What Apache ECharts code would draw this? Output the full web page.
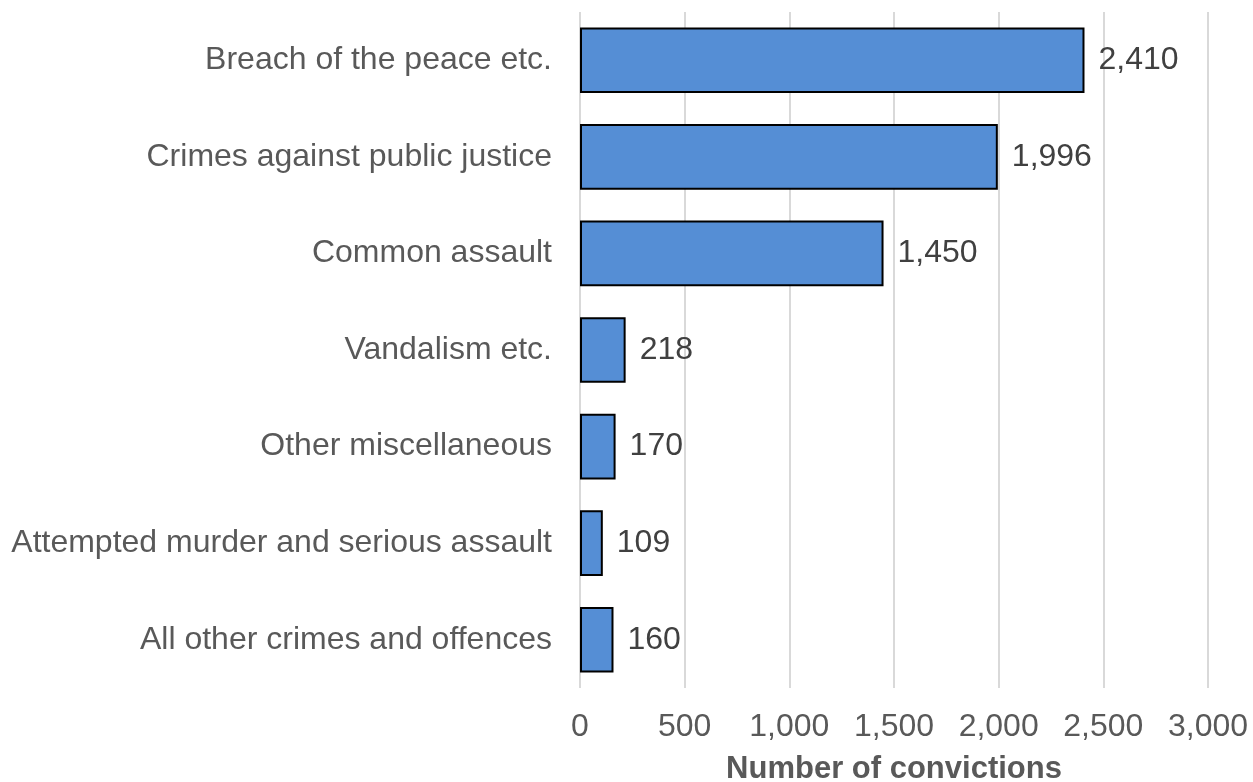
<!DOCTYPE html>
<html>
<head>
<meta charset="utf-8">
<script src="https://cdn.jsdelivr.net/npm/echarts@6/dist/echarts.min.js"></script>
<style>
  html, body { margin: 0; padding: 0; background: #ffffff; }
  #chart { width: 1253px; height: 782px; }
</style>
</head>
<body>
<div id="chart"></div>
<script>
// Convictions by crime type (top to bottom)
const categories = [
  'Breach of the peace etc.',
  'Crimes against public justice',
  'Common assault',
  'Vandalism etc.',
  'Other miscellaneous',
  'Attempted murder and serious assault',
  'All other crimes and offences'
];
const convictions = [2410, 1996, 1450, 218, 170, 109, 160];
const axisTitle = 'Number of convictions';

const chart = echarts.init(document.getElementById('chart'), null, { renderer: 'canvas' });
const fmt = v => v.toLocaleString('en-GB');

chart.setOption({
  animation: false,
  grid: {
    left: 580, right: 45, top: 12, bottom: 94,
    containLabel: false,
    outerBoundsMode: 'none'
  },
  xAxis: {
    type: 'value',
    min: 0,
    max: 3000,
    interval: 500,
    name: axisTitle,
    nameLocation: 'middle',
    nameGap: 66,
    nameTextStyle: { fontFamily: 'Liberation Sans', fontSize: 31, fontWeight: 'bold', color: '#595959' },
    axisLine: { show: false },
    axisTick: { show: false },
    axisLabel: {
      margin: 23,
      fontFamily: 'Liberation Sans',
      fontSize: 32,
      color: '#595959',
      formatter: v => fmt(v)
    },
    splitLine: { show: true, lineStyle: { color: '#d9d9d9', width: 2 } }
  },
  yAxis: {
    type: 'category',
    data: categories,
    inverse: true,
    axisLine: { show: false },
    axisTick: { show: false },
    axisLabel: {
      margin: 28,
      fontFamily: 'Liberation Sans',
      fontSize: 32,
      color: '#595959'
    }
  },
  series: [{
    type: 'bar',
    data: convictions,
    barCategoryGap: '32%',
    itemStyle: { color: '#558ed5', borderColor: '#000000', borderWidth: 2 },
    label: {
      show: true,
      position: 'right',
      distance: 14,
      fontFamily: 'Liberation Sans',
      fontSize: 32,
      color: '#404040',
      formatter: p => fmt(p.value)
    }
  }]
});
</script>
</body>
</html>
